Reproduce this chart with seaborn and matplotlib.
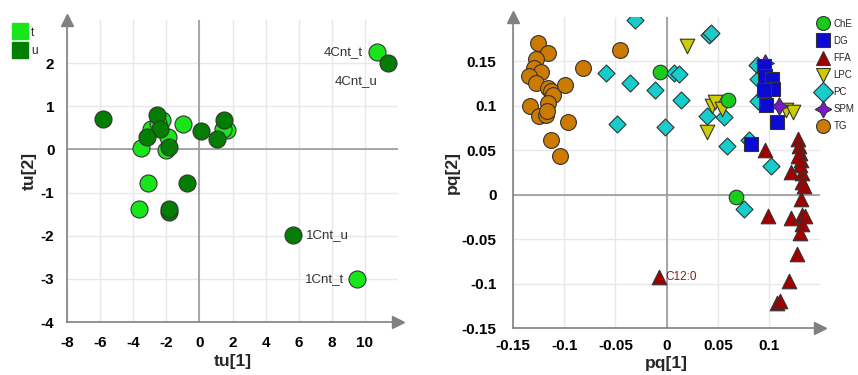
import matplotlib
matplotlib.use('Agg')
import matplotlib.pyplot as plt
from matplotlib.lines import Line2D
import seaborn as sns
import pandas as pd

# scores (left panel)
t_x = [10.7, 9.5, -3.67, -3.1, -3.55, -2.28, -2.95, -1.88, -2.02, -0.98, 1.64, 1.44, -2.5]
t_y = [2.26, -3.0, -1.38, -0.77, 0.04, 0.69, 0.48, 0.28, -0.02, 0.59, 0.44, 0.48, 0.62]
u_x = [11.4, 5.67, -5.8, -0.75, -1.85, -1.85, -2.55, -2.39, -3.15, -1.82, 0.11, 1.04, 1.5]
u_y = [2.0, -1.99, 0.71, -0.77, -1.45, -1.37, 0.80, 0.48, 0.28, 0.05, 0.415, 0.25, 0.67]
score_labels = {'4Cnt_t': (10.7, 2.26), '4Cnt_u': (11.4, 2.0),
                '1Cnt_u': (5.67, -1.99), '1Cnt_t': (9.5, -3.0)}

# loadings (right panel)
tg_x = [-0.1254, -0.116, -0.128, -0.130, -0.123, -0.1345, -0.128, -0.116, -0.113, -0.111,
        -0.099, -0.082, -0.046, -0.1335, -0.1157, -0.125, -0.118, -0.0965, -0.1134, -0.104, -0.117]
tg_y = [0.171, 0.159, 0.153, 0.142, 0.138, 0.134, 0.126, 0.120, 0.117, 0.1126,
        0.123, 0.143, 0.1625, 0.100, 0.103, 0.088, 0.0897, 0.0815, 0.062, 0.043, 0.0946]
pc_x = [-0.0312, -0.059, -0.0354, -0.0117, -0.0484, -0.0016, 0.0068, 0.0117, 0.014, 0.0416,
        0.043, 0.0394, 0.0556, 0.0589, 0.080, 0.1018, 0.0881, 0.0891, 0.0891, 0.0751]
pc_y = [0.197, 0.137, 0.1258, 0.1175, 0.0796, 0.0762, 0.137, 0.136, 0.107, 0.180,
        0.182, 0.088, 0.0875, 0.0544, 0.062, 0.0319, 0.146, 0.1306, 0.105, -0.0161]
lpc_x = [0.0199, 0.0443, 0.0475, 0.054, 0.0394, 0.1167, 0.1232]
lpc_y = [0.167, 0.0995, 0.104, 0.0965, 0.070, 0.095, 0.0927]
che_x = [-0.0064, 0.060, 0.068]
che_y = [0.138, 0.107, -0.0026]
spm_x = [0.096, 0.110]
spm_y = [0.148, 0.0995]
dg_x = [0.0946, 0.0962, 0.1028, 0.1043, 0.0946, 0.0972, 0.108, 0.0826]
dg_y = [0.1445, 0.134, 0.1306, 0.119, 0.118, 0.101, 0.082, 0.0574]
ffa_x = [0.0956, 0.128, 0.1294, 0.130, 0.131, 0.121, 0.132, 0.132, 0.1346, 0.1313, 0.0989,
         0.1213, 0.132, 0.1352, 0.1326, 0.130, 0.127, 0.119, 0.1076, 0.1109, 0.130, 0.128, -0.0078]
ffa_y = [0.050, 0.063, 0.0544, 0.047, 0.0394, 0.026, 0.025, 0.0139, 0.0101, -0.0048, -0.0236,
         -0.0262, -0.0225, -0.0244, -0.0327, -0.0431, -0.0668, -0.0968, -0.1213, -0.120, 0.033, 0.043, -0.092]

scores = pd.concat([
    pd.DataFrame({'tu1': t_x, 'tu2': t_y, 'grp': 't'}),
    pd.DataFrame({'tu1': u_x, 'tu2': u_y, 'grp': 'u'}),
])
loads = pd.concat([
    pd.DataFrame({'pq1': tg_x, 'pq2': tg_y, 'cls': 'TG'}),
    pd.DataFrame({'pq1': pc_x, 'pq2': pc_y, 'cls': 'PC'}),
    pd.DataFrame({'pq1': lpc_x, 'pq2': lpc_y, 'cls': 'LPC'}),
    pd.DataFrame({'pq1': che_x, 'pq2': che_y, 'cls': 'ChE'}),
    pd.DataFrame({'pq1': spm_x, 'pq2': spm_y, 'cls': 'SPM'}),
    pd.DataFrame({'pq1': dg_x, 'pq2': dg_y, 'cls': 'DG'}),
    pd.DataFrame({'pq1': ffa_x, 'pq2': ffa_y, 'cls': 'FFA'}),
])

grp_col = {'t': '#19e619', 'u': '#037d03'}
cls_style = {  # colour, marker, size
    'ChE': ('#19cc19', 'o', 110),
    'DG': ('#0a0ad2', 's', 110),
    'FFA': ('#a00000', '^', 110),
    'LPC': ('#cccc00', 'v', 110),
    'PC': ('#19cccc', 'D', 75),
    'SPM': ('#7a19c8', (4, 1, 0), 160),
    'TG': ('#cc7a00', 'o', 130),
}
legend_order = ['ChE', 'DG', 'FFA', 'LPC', 'PC', 'SPM', 'TG']

sns.set_style('white')
plt.rcParams['font.family'] = ['Liberation Sans', 'DejaVu Sans']

fig = plt.figure(figsize=(8.58, 3.75), dpi=100)
ax1 = fig.add_axes([0.078, 0.141, 0.386, 0.806])
ax2 = fig.add_axes([0.598, 0.125, 0.358, 0.830])


def style_axes(ax, xpad, ypad):
    ax.grid(True, color='#e8e8e8', lw=1)
    ax.set_axisbelow(True)
    for s in ['top', 'right']:
        ax.spines[s].set_visible(False)
    for s in ['left', 'bottom']:
        ax.spines[s].set_color('#808080')
        ax.spines[s].set_linewidth(1.2)
    ax.axhline(0, color='#999999', lw=1.2, zorder=1)
    ax.axvline(0, color='#999999', lw=1.2, zorder=1)
    ax.plot(1, 0, '>', color='#808080', ms=9, transform=ax.transAxes, clip_on=False)
    ax.plot(0, 1, '^', color='#808080', ms=9, transform=ax.transAxes, clip_on=False)
    ax.tick_params(axis='both', which='both', direction='in', colors='#808080',
                   labelcolor='black', labelsize=11)
    ax.tick_params(which='major', length=5)
    ax.tick_params(which='minor', length=3)
    ax.tick_params(axis='x', which='major', pad=xpad)
    ax.tick_params(axis='y', which='major', pad=ypad)


# left: scores
for g in ['t', 'u']:
    sns.scatterplot(data=scores[scores.grp == g], x='tu1', y='tu2', color=grp_col[g],
                    s=150, edgecolor='#333333', linewidth=0.8, ax=ax1, zorder=3, legend=False)
ax1.set_xlim(-8, 12)
ax1.set_ylim(-4, 3)
ax1.set_xticks(range(-8, 11, 2))
ax1.set_xticks(range(-8, 12, 1), minor=True)
ax1.set_yticks(range(-4, 3))
ax1.set_yticks([v / 2 for v in range(-8, 6)], minor=True)
style_axes(ax1, 10, 9)
ax1.set_xlabel('tu[1]', fontsize=12.5, fontweight='bold', labelpad=3)
ax1.set_ylabel('tu[2]', fontsize=12.5, fontweight='bold', labelpad=3)
ax1.set_xticklabels([str(v) for v in range(-8, 11, 2)], fontweight='bold')
ax1.set_yticklabels([str(v) for v in range(-4, 3)], fontweight='bold')

ax1.annotate('4Cnt_t', score_labels['4Cnt_t'], xytext=(-10, 0), textcoords='offset points',
             ha='right', va='center', fontsize=9.5, color='#333333')
ax1.annotate('4Cnt_u', score_labels['4Cnt_u'], xytext=(-8, -13), textcoords='offset points',
             ha='right', va='center', fontsize=9.5, color='#333333')
ax1.annotate('1Cnt_u', score_labels['1Cnt_u'], xytext=(9, 0), textcoords='offset points',
             ha='left', va='center', fontsize=9.5, color='#333333')
ax1.annotate('1Cnt_t', score_labels['1Cnt_t'], xytext=(-9, 0), textcoords='offset points',
             ha='right', va='center', fontsize=9.5, color='#333333')

h1 = [Line2D([], [], marker='s', ls='', ms=11, color=grp_col[g], mec=grp_col[g]) for g in ['t', 'u']]
fig.legend(h1, ['t', 'u'], loc='upper left', bbox_to_anchor=(0.010, 0.945), frameon=False,
           fontsize=8.5, handlelength=1.0, handletextpad=0.4, labelspacing=0.55, borderpad=0)

# right: loadings
for c in ['TG', 'PC', 'LPC', 'ChE', 'SPM', 'DG', 'FFA']:
    col, mk, sz = cls_style[c]
    sns.scatterplot(data=loads[loads.cls == c], x='pq1', y='pq2', color=col, marker=mk,
                    s=sz, edgecolor='#333333', linewidth=0.8, ax=ax2, zorder=3, legend=False)
ax2.set_xlim(-0.15, 0.15)
ax2.set_ylim(-0.15, 0.2)
xt = [-0.15, -0.1, -0.05, 0, 0.05, 0.1]
yt = [-0.15, -0.1, -0.05, 0, 0.05, 0.1, 0.15]
ax2.set_xticks(xt)
ax2.set_xticks([v * 0.025 for v in range(-6, 6)], minor=True)
ax2.set_yticks(yt)
ax2.set_yticks([v * 0.025 for v in range(-6, 8)], minor=True)
style_axes(ax2, 8, 12)
ax2.set_xticklabels(['-0.15', '-0.1', '-0.05', '0', '0.05', '0.1'], fontweight='bold')
ax2.set_yticklabels(['-0.15', '-0.1', '-0.05', '0', '0.05', '0.1', '0.15'], fontweight='bold')
ax2.set_xlabel('pq[1]', fontsize=12.5, fontweight='bold', labelpad=2)
ax2.set_ylabel('pq[2]', fontsize=12.5, fontweight='bold', labelpad=1)
ax2.annotate('C12:0', (ffa_x[-1], ffa_y[-1]), xytext=(5, 0), textcoords='offset points',
             ha='left', va='center', fontsize=8.5, color='#8b1a1a')

h2 = [Line2D([], [], marker=cls_style[c][1], ls='', ms=10 if c != 'SPM' else 12,
             color=cls_style[c][0], mec='#333333', mew=0.8) for c in legend_order]
fig.legend(h2, legend_order, loc='upper left', bbox_to_anchor=(0.946, 0.963), frameon=False,
           fontsize=7, handlelength=1.4, handletextpad=0.35, labelspacing=0.73, borderpad=0)

fig.savefig('out.png', dpi=100)
